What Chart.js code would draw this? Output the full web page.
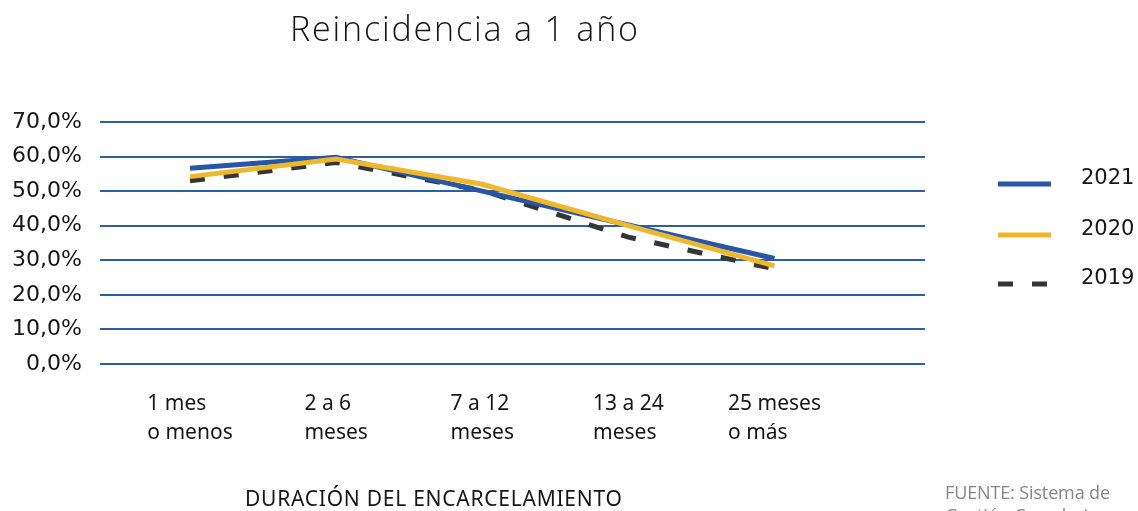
<!DOCTYPE html>
<html>
<head>
<meta charset="utf-8">
<script src="https://cdn.jsdelivr.net/npm/chart.js@4.4.0/dist/chart.umd.min.js"></script>
<style>
  body { margin: 0; background: #fff; }
  canvas { display: block; }
</style>
</head>
<body>
<canvas id="chart" width="1138" height="511"></canvas>
<script>
// data
const categories = [
  ['1 mes', 'o menos'],
  ['2 a 6', 'meses'],
  ['7 a 12', 'meses'],
  ['13 a 24', 'meses'],
  ['25 meses', 'o más']
];
const serie2021 = [56.6, 59.8, 50.0, 40.2, 30.5];
const serie2020 = [54.2, 59.3, 52.0, 40.0, 28.4];
const serie2019 = [53.0, 58.3, 50.2, 36.7, 27.5];
const yTicks = [0, 10, 20, 30, 40, 50, 60, 70];

const BLUE = '#2757a6';
const YELLOW = '#efb82c';
const DARK = '#333537';
const GRID = '#2e5fa3';
const TEXT = '#161616';

const toPoints = arr => arr.map((v, i) => ({ x: i, y: v }));

// draw text stretched a little with letter spacing so it spans a given width
function spreadText(ctx, text, left, y, width) {
  ctx.letterSpacing = '0px';
  const w = ctx.measureText(text).width;
  const sp = (width - w) / Math.max(1, text.length - 1);
  ctx.letterSpacing = sp.toFixed(2) + 'px';
  ctx.textAlign = 'left';
  ctx.fillText(text, left, y);
  ctx.letterSpacing = '0px';
}

// title, x labels, legend and notes
const extras = {
  id: 'extras',
  afterDraw(chart) {
    const ctx = chart.ctx;
    const xs = chart.scales.x;
    ctx.save();
    ctx.fillStyle = TEXT;
    ctx.textBaseline = 'middle';

    ctx.font = '300 34px "Open Sans"';
    spreadText(ctx, 'Reincidencia a 1 año', 290, 31, 348);

    // category labels, block centred on the point, lines left aligned
    ctx.font = '21px "Noto Sans"';
    ctx.textAlign = 'left';
    categories.forEach((lines, i) => {
      const w = Math.max(...lines.map(l => ctx.measureText(l).width));
      const left = xs.getPixelForValue(i) - w / 2;
      lines.forEach((l, j) => ctx.fillText(l, left, 404 + j * 29));
    });

    ctx.font = '21px "Noto Sans"';
    spreadText(ctx, 'DURACIÓN DEL ENCARCELAMIENTO', 245, 500, 377);

    // legend
    const ys = [184, 235, 284];
    chart.data.datasets.forEach((ds, i) => {
      ctx.beginPath();
      ctx.strokeStyle = ds.borderColor;
      ctx.lineWidth = 5;
      ctx.setLineDash(ds.borderDash || []);
      ctx.moveTo(998, ys[i]);
      ctx.lineTo(1051, ys[i]);
      ctx.stroke();
      ctx.setLineDash([]);
      ctx.font = '21px "DejaVu Sans"';
      ctx.textAlign = 'left';
      ctx.fillStyle = TEXT;
      ctx.fillText(ds.label, 1081, ys[i] - 5);
    });

    ctx.font = '18px "Open Sans"';
    ctx.fillStyle = '#858585';
    spreadText(ctx, 'FUENTE: Sistema de', 945, 494, 165);
    ctx.fillText('Gestión Carcelaria', 945, 517);
    ctx.restore();
  }
};

new Chart(document.getElementById('chart'), {
  type: 'line',
  data: {
    datasets: [
      {
        label: '2021',
        data: toPoints(serie2021),
        borderColor: BLUE,
        borderWidth: 5,
        pointRadius: 0,
        order: 1
      },
      {
        label: '2020',
        data: toPoints(serie2020),
        borderColor: YELLOW,
        borderWidth: 5,
        pointRadius: 0,
        order: 0
      },
      {
        label: '2019',
        data: toPoints(serie2019),
        borderColor: DARK,
        borderWidth: 5,
        borderDash: [15, 19],
        borderCapStyle: 'butt',
        pointRadius: 0,
        order: 2
      }
    ]
  },
  options: {
    responsive: false,
    animation: false,
    layout: { padding: { top: 122, right: 213, left: 0, bottom: 0 } },
    plugins: {
      legend: { display: false },
      title: { display: false },
      tooltip: { enabled: false }
    },
    scales: {
      x: {
        type: 'linear',
        min: -0.616,
        max: 5.03,
        grid: { display: false },
        border: { display: false },
        ticks: { display: false },
        afterFit(s) { s.height = 147; }
      },
      y: {
        min: 0,
        max: 70,
        afterBuildTicks(s) { s.ticks = yTicks.map(v => ({ value: v })); },
        afterFit(s) { s.width = 100; },
        border: { display: false },
        grid: { color: GRID, lineWidth: 2, drawTicks: false },
        ticks: {
          padding: 18,
          color: TEXT,
          font: { family: 'DejaVu Sans', size: 22 },
          callback: v => v.toFixed(1).replace('.', ',') + '%'
        }
      }
    }
  },
  plugins: [extras]
});
</script>
</body>
</html>
